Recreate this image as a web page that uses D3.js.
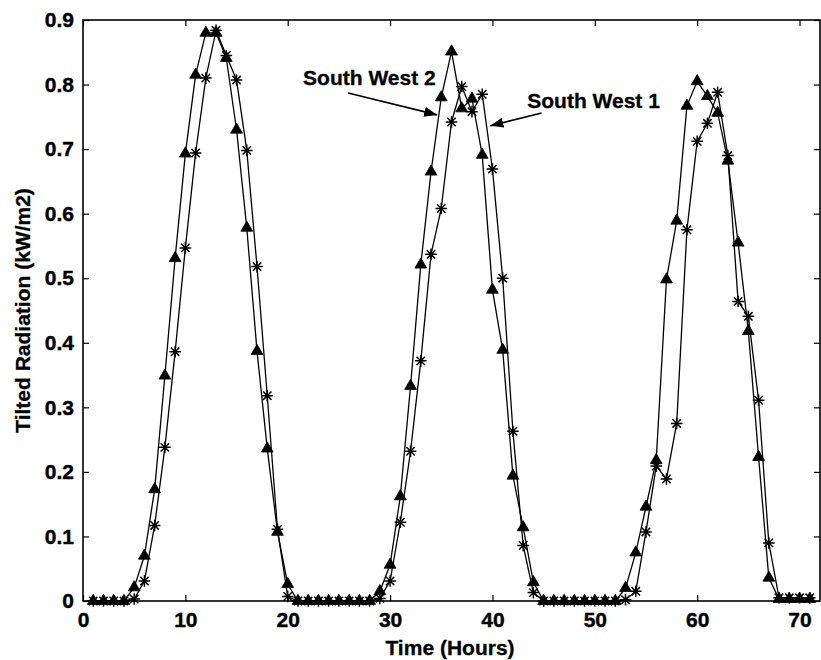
<!DOCTYPE html>
<html>
<head>
<meta charset="utf-8">
<script src="https://cdn.jsdelivr.net/npm/d3@7"></script>
<style>
  html, body { margin: 0; padding: 0; background: #fff; }
  svg { display: block; }
  text { font-family: "Liberation Sans", Arial, Helvetica, sans-serif; font-weight: bold; fill: #000; }
</style>
</head>
<body>
<svg id="chart" width="821" height="660"></svg>
<script>
// ---- data ----
const hours = d3.range(1, 72); // 1..71
const southWest2 = [
  0, 0, 0, 0, 0.021, 0.070, 0.173, 0.349, 0.531, 0.693,
  0.815, 0.880, 0.880, 0.841, 0.730, 0.578, 0.387, 0.236, 0.107, 0.026,
  0, 0, 0, 0, 0, 0, 0, 0, 0.015, 0.056,
  0.162, 0.333, 0.521, 0.665, 0.780, 0.851, 0.763, 0.778, 0.691, 0.482,
  0.389, 0.194, 0.114, 0.029, 0, 0, 0, 0, 0, 0,
  0, 0, 0.020, 0.075, 0.146, 0.218, 0.498, 0.589, 0.767, 0.805,
  0.782, 0.756, 0.682, 0.555, 0.418, 0.223, 0.036, 0.003, 0.003, 0.003,
  0.003
];
const southWest1 = [
  0, 0, 0, 0, 0.003, 0.031, 0.117, 0.238, 0.386, 0.547,
  0.694, 0.810, 0.884, 0.845, 0.807, 0.698, 0.518, 0.318, 0.111, 0.007,
  0, 0, 0, 0, 0, 0, 0, 0, 0.004, 0.031,
  0.122, 0.232, 0.372, 0.537, 0.608, 0.742, 0.797, 0.758, 0.785, 0.669,
  0.500, 0.263, 0.086, 0.013, 0, 0, 0, 0, 0, 0,
  0, 0, 0.002, 0.015, 0.107, 0.209, 0.189, 0.275, 0.575, 0.712,
  0.740, 0.788, 0.690, 0.464, 0.441, 0.311, 0.090, 0.005, 0.005, 0.005,
  0.005
];
const xTicks = [0, 10, 20, 30, 40, 50, 60, 70];
const yTicks = [0, 0.1, 0.2, 0.3, 0.4, 0.5, 0.6, 0.7, 0.8, 0.9];
const xTitle = "Time (Hours)";
const yTitle = "Tilted Radiation (kW/m2)";
// annotation: [label, textX, textY, arrowStartX, arrowStartY, tipX, tipY] in data units
const annotations = [
  ["South West 2", 21.5, 0.800, 25.9, 0.787, 34.6, 0.753],
  ["South West 1", 43.4, 0.764, 44.8, 0.756, 39.8, 0.736]
];

// ---- layout ----
const svg = d3.select("#chart");
const L = 83, R = 820, T = 20, B = 601;
const x = d3.scaleLinear().domain([0, 72]).range([L, R]);
const y = d3.scaleLinear().domain([0, 0.9]).range([B, T]);

// frame
svg.append("rect").attr("x", L).attr("y", T).attr("width", R - L).attr("height", B - T)
  .attr("fill", "none").attr("stroke", "#000").attr("stroke-width", 1.6);

const fmt = d => d === 0 ? "0" : d3.format(".1f")(d);
const tickLen = 6;
const tickFont = 21;

// bottom axis
const gx = svg.append("g").attr("transform", `translate(0,${B})`)
  .call(d3.axisBottom(x).tickValues(xTicks).tickSizeInner(-tickLen).tickSizeOuter(0).tickPadding(11).tickFormat(d3.format("d")));
// top axis (ticks only)
const gxt = svg.append("g").attr("transform", `translate(0,${T})`)
  .call(d3.axisTop(x).tickValues(xTicks).tickSizeInner(-tickLen).tickSizeOuter(0).tickFormat(""));
// left axis
const gy = svg.append("g").attr("transform", `translate(${L},0)`)
  .call(d3.axisLeft(y).tickValues(yTicks).tickSizeInner(-tickLen).tickSizeOuter(0).tickPadding(9).tickFormat(fmt));
// right axis (ticks only)
const gyr = svg.append("g").attr("transform", `translate(${R},0)`)
  .call(d3.axisRight(y).tickValues(yTicks).tickSizeInner(-tickLen).tickSizeOuter(0).tickFormat(""));

[gx, gxt, gy, gyr].forEach(g => {
  g.select(".domain").remove();
  g.selectAll(".tick line").attr("stroke", "#000").attr("stroke-width", 1.2);
  g.selectAll(".tick text").attr("font-size", tickFont).attr("font-weight", "bold")
    .attr("font-family", '"Liberation Sans", Arial, sans-serif').attr("fill", "#000")
    .attr("stroke", "#000").attr("stroke-width", 0.4);
});

// axis titles
svg.append("text").attr("x", 450).attr("y", 655).attr("text-anchor", "middle")
  .attr("font-size", 21).attr("stroke", "#000").attr("stroke-width", 0.3).text(xTitle);
svg.append("text").attr("transform", `translate(30,${(T + B) / 2}) rotate(-90)`)
  .attr("text-anchor", "middle").attr("font-size", 21).attr("stroke", "#000").attr("stroke-width", 0.3).text(yTitle);

// lines
const line = d3.line().x((d, i) => x(hours[i])).y(d => y(d));
const plot = svg.append("g");
plot.append("path").datum(southWest1).attr("d", line).attr("fill", "none").attr("stroke", "#000").attr("stroke-width", 1.3);
plot.append("path").datum(southWest2).attr("d", line).attr("fill", "none").attr("stroke", "#000").attr("stroke-width", 1.3);

// star markers (SW1)
const s = 5.8;
const starPath = `M${-s},0L${s},0M0,${-s}L0,${s}M${-s*0.72},${-s*0.72}L${s*0.72},${s*0.72}M${-s*0.72},${s*0.72}L${s*0.72},${-s*0.72}`;
plot.selectAll(".star").data(southWest1).join("path").attr("class", "star")
  .attr("transform", (d, i) => `translate(${x(hours[i])},${y(d)})`)
  .attr("d", starPath).attr("stroke", "#000").attr("stroke-width", 1.5).attr("fill", "none");

// triangle markers (SW2)
const tri = d3.symbol().type(d3.symbolTriangle).size(60);
plot.selectAll(".tri").data(southWest2).join("path").attr("class", "tri")
  .attr("transform", (d, i) => `translate(${x(hours[i])},${y(d)})`)
  .attr("d", tri).attr("fill", "#000").attr("stroke", "#000").attr("stroke-width", 0.8);

// annotations
const defs = svg.append("defs");
defs.append("marker").attr("id", "arrow").attr("viewBox", "0 0 13 10").attr("refX", 13).attr("refY", 5)
  .attr("markerWidth", 13).attr("markerHeight", 10).attr("markerUnits", "userSpaceOnUse").attr("orient", "auto")
  .append("path").attr("d", "M0,0L13,5L0,10Z").attr("fill", "#000");

annotations.forEach(a => {
  svg.append("text").attr("x", x(a[1])).attr("y", y(a[2])).attr("font-size", 21)
    .attr("stroke", "#000").attr("stroke-width", 0.3).text(a[0]);
  svg.append("line").attr("x1", x(a[3])).attr("y1", y(a[4])).attr("x2", x(a[5])).attr("y2", y(a[6]))
    .attr("stroke", "#000").attr("stroke-width", 1.6).attr("marker-end", "url(#arrow)");
});
</script>
</body>
</html>
